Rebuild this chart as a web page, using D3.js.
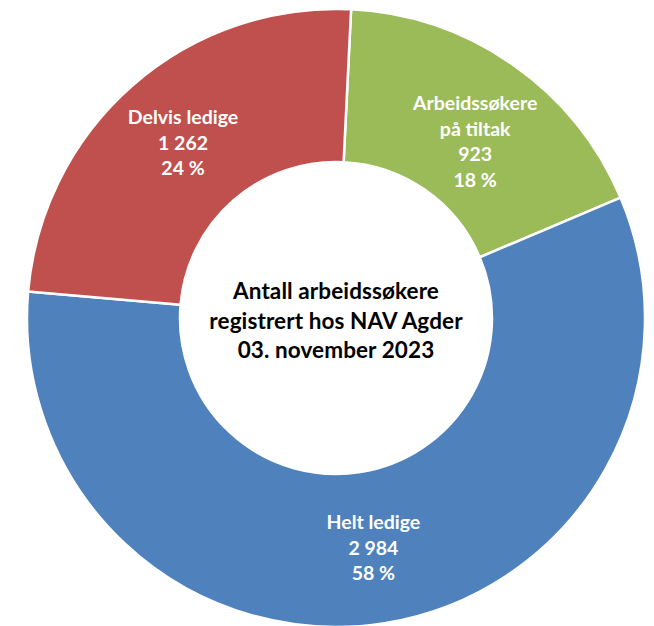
<!DOCTYPE html>
<html>
<head>
<meta charset="utf-8">
<script src="https://cdn.jsdelivr.net/npm/d3@7"></script>
<style>
  body { margin: 0; background: #fff; }
  svg { display: block; font-family: Lato, "Open Sans", sans-serif; font-weight: bold; }
</style>
</head>
<body>
<svg width="654" height="626"></svg>
<script>
// categories in drawing order (clockwise from top)
var categories = ["Arbeidssøkere på tiltak", "Helt ledige", "Delvis ledige"];
var labelLines = [["Arbeidssøkere", "på tiltak"], ["Helt ledige"], ["Delvis ledige"]];
var values = [923, 2984, 1262];
var colors = ["#9BBB59", "#4F81BD", "#C0504D"];
var titleLines = ["Antall arbeidssøkere", "registrert hos NAV Agder", "03. november 2023"];

(function() {
    'use strict';

    var svg = d3.select("svg");
    var cx = 336, cy = 318;
    var outer = 309, inner = 156;
    var rotation = 2.8 * Math.PI / 180;

    var total = d3.sum(values);
    var fmt = function(v) { return d3.format(",")(v).replace(/,/g, "\u00a0"); };
    var pct = function(v) { return Math.round(v / total * 100) + " %"; };

    var pie = d3.pie()
        .sort(null)
        .startAngle(rotation)
        .endAngle(rotation + 2 * Math.PI);

    var arc = d3.arc()
        .innerRadius(inner)
        .outerRadius(outer);

    var g = svg.append("g")
        .attr("transform", "translate(" + cx + "," + cy + ")");

    var slices = pie(values);

    g.selectAll("path.slice")
        .data(slices)
        .enter().append("path")
            .attr("class", "slice")
            .attr("d", arc)
            .attr("fill", function(d, i) { return colors[i]; })
            .attr("stroke", "#fff")
            .attr("stroke-width", 2.5)
            .attr("stroke-linejoin", "round");

    // Excel pushes the small label a bit off the centroid
    var nudge = [[6, 14], [1, 0], [0, 0]];
    var lineH = 25.5;

    var labels = g.selectAll("text.lbl")
        .data(slices)
        .enter().append("text")
            .attr("class", "lbl")
            .attr("fill", "#fff")
            .attr("font-size", 19.5)
            .attr("text-anchor", "middle");

    labels.each(function(d, i) {
        var c = arc.centroid(d);
        var lines = labelLines[i].concat([fmt(values[i]), pct(values[i])]);
        var x = c[0] + nudge[i][0];
        var y0 = c[1] + nudge[i][1] - (lines.length - 1) / 2 * lineH + 7;
        var t = d3.select(this);
        lines.forEach(function(s, k) {
            t.append("tspan")
                .attr("x", x)
                .attr("y", y0 + k * lineH)
                .text(s);
        });
    });

    var title = g.append("text")
        .attr("text-anchor", "middle")
        .attr("fill", "#000")
        .attr("font-size", 22.5)
        .attr("letter-spacing", 0.1);

    titleLines.forEach(function(s, k) {
        title.append("tspan")
            .attr("x", 0)
            .attr("y", -19 + k * 29.5)
            .text(s);
    });
})();
</script>
</body>
</html>
